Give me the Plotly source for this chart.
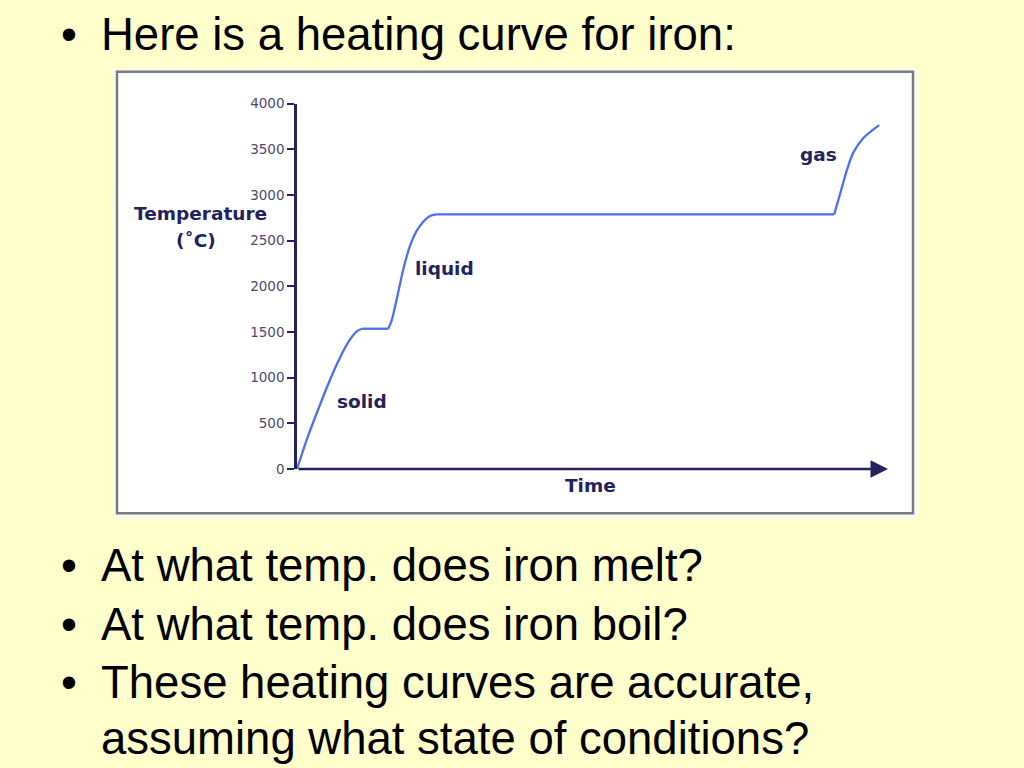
import plotly.graph_objects as go

# ---- data ----
time_units = [0, 1.7, 3.4, 5.1, 6.8, 8.5, 10.1, 10.95, 15.45, 16.0, 16.9, 18.0, 19.1, 20.2, 21.4, 22.5, 23.6,
              90.9, 91.9, 93.0, 94.1, 95.8, 98.5]
temperature_c = [0, 330, 620, 900, 1155, 1370, 1505, 1535, 1535, 1620, 1867, 2189, 2440, 2601, 2709, 2769, 2787,
                 2787, 3013, 3263, 3461, 3622, 3765]
y_ticks = [0, 500, 1000, 1500, 2000, 2500, 3000, 3500, 4000]
phase_labels = ["solid", "liquid", "gas"]
phase_pos = [(11.0, 735), (24.9, 2190), (88.3, 3440)]  # (time, temperature) label anchors
bullets = ["Here is a heating curve for iron:",
           "At what temp. does iron melt?",
           "At what temp. does iron boil?",
           "These heating curves are accurate,"]
continuation = "assuming what state of conditions?"

# curve pieces: (start index, end index, smooth?)
segments = [(0, 7, True), (7, 8, False), (8, 16, True), (16, 17, False), (17, 22, True)]

W, H = 1024, 768
def px(x):
    return x / W
def py(y):
    return (H - y) / H

NAVY = "#23225e"
CURVE = "#4f6ff0"
TEXTFONT = "Liberation Sans, Arial, sans-serif"
LABELFONT = "DejaVu Sans, Verdana, sans-serif"

fig = go.Figure()
for a, b, smooth in segments:
    fig.add_trace(go.Scatter(
        x=time_units[a:b + 1], y=temperature_c[a:b + 1], mode="lines",
        line=dict(color=CURVE, width=2.3, shape="spline" if smooth else "linear", smoothing=0.8),
        hoverinfo="skip", showlegend=False, cliponaxis=False,
    ))

shapes = [
    dict(type="rect", xref="paper", yref="paper", x0=px(113), x1=px(918), y0=py(521), y1=py(62),
         fillcolor="#f6fbf4", line=dict(width=0), layer="below"),
    dict(type="rect", xref="paper", yref="paper", x0=px(117), x1=px(913), y0=py(516), y1=py(65),
         fillcolor="white", line=dict(color="#7b7b7b", width=2.5), layer="below"),
]

annotations = []
annotations.append(dict(x=100, y=0, ax=0, ay=0, xref="x", yref="y", axref="x", ayref="y",
                        text="", showarrow=True, arrowhead=2, arrowsize=1.4, arrowwidth=2.5,
                        arrowcolor=NAVY))
annotations.append(dict(x=px(200), y=py(210), xref="paper", yref="paper", text="<b>Temperature</b>",
                        showarrow=False, font=dict(family=LABELFONT, size=18.5, color=NAVY),
                        xanchor="center", yanchor="middle"))
annotations.append(dict(x=px(196), y=py(237), xref="paper", yref="paper", text="<b>(˚C)</b>",
                        showarrow=False, font=dict(family=LABELFONT, size=18.5, color=NAVY),
                        xanchor="center", yanchor="middle"))
annotations.append(dict(x=px(590), y=py(488), xref="paper", yref="paper", text="<b>Time</b>",
                        showarrow=False, font=dict(family=LABELFONT, size=18.5, color=NAVY),
                        xanchor="center", yanchor="middle"))
for lab, (tx, ty) in zip(phase_labels, phase_pos):
    annotations.append(dict(x=tx, y=ty, xref="x", yref="y", text=f"<b>{lab}</b>", showarrow=False,
                            font=dict(family=LABELFONT, size=18.5, color=NAVY),
                            xanchor="center", yanchor="middle"))

bullet_y = [27.5, 569.2, 629.2, 689.2]
for txt, yy in zip(bullets, bullet_y):
    annotations.append(dict(x=px(69), y=py(yy), xref="paper", yref="paper", text="•", showarrow=False,
                            font=dict(family=TEXTFONT, size=45.5, color="black"),
                            xanchor="center", yanchor="middle"))
    annotations.append(dict(x=px(99), y=py(yy), xref="paper", yref="paper", text=txt, showarrow=False,
                            font=dict(family=TEXTFONT, size=45.5, color="black"),
                            xanchor="left", yanchor="middle"))
annotations.append(dict(x=px(99), y=py(745.9), xref="paper", yref="paper", text=continuation, showarrow=False,
                        font=dict(family=TEXTFONT, size=45.5, color="black"),
                        xanchor="left", yanchor="middle"))

fig.update_layout(
    width=W, height=H, margin=dict(l=0, r=0, t=0, b=0),
    paper_bgcolor="#FFFFCC", plot_bgcolor="rgba(0,0,0,0)",
    shapes=shapes, annotations=annotations, showlegend=False,
    xaxis=dict(domain=[px(297), px(888)], range=[0, 100], showticklabels=False, showgrid=False,
               zeroline=False, showline=False, ticks="", fixedrange=True),
    yaxis=dict(domain=[py(470.7), py(97.7)], range=[0, 4000], tickvals=y_ticks,
               ticks="outside", ticklen=7, tickwidth=2, tickcolor=NAVY,
               showline=True, linecolor=NAVY, linewidth=2.5, showgrid=False, zeroline=False,
               tickfont=dict(family=LABELFONT, size=13.5, color="#4a4a6e"), fixedrange=True),
)

fig.write_html("out.html", config={"displayModeBar": False},
               post_script="document.body.style.margin='0';document.body.style.overflow='hidden';")
